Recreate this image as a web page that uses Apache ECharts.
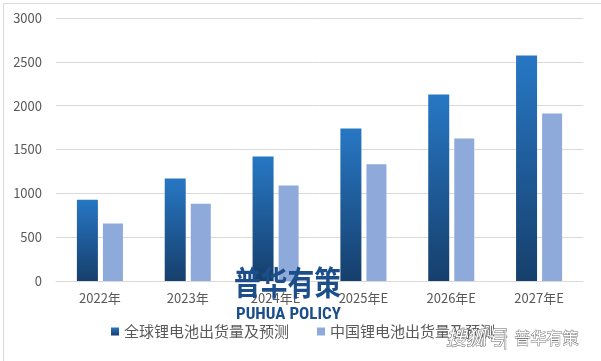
<!DOCTYPE html>
<html><head><meta charset="utf-8">
<script src="https://cdn.jsdelivr.net/npm/echarts@6/dist/echarts.min.js"></script>
<style>html,body{margin:0;padding:0;background:#fff}#c{width:601px;height:361px}</style>
</head><body><div id="c"></div>
<script>
const categories = ['2022年','2023年','2024年E','2025年E','2026年E','2027年E'];
const globalShipments = [927, 1168, 1420, 1740, 2126, 2573];
const chinaShipments = [656, 882, 1088, 1332, 1626, 1912];
const seriesNames = ['全球锂电池出货量及预测', '中国锂电池出货量及预测'];
const yTicks = {min: 0, max: 3000, interval: 500};

const font = '"Noto Sans CJK SC", "Noto Sans", sans-serif';
const chart = echarts.init(document.getElementById('c'), null, {renderer: 'canvas'});
chart.setOption({
  animation: false,
  backgroundColor: '#fff',
  grid: {left: 56, right: 18, top: 18, bottom: 80, containLabel: false},
  legend: {
    bottom: 17, left: 106,
    itemWidth: 8, itemHeight: 8, itemGap: 28,
    icon: 'rect',
    textStyle: {color: '#595959', fontSize: 15, fontFamily: font},
    data: seriesNames
  },
  xAxis: {
    type: 'category', data: categories,
    axisLine: {lineStyle: {color: '#d9d9d9'}},
    axisTick: {show: false},
    axisLabel: {color: '#595959', fontSize: 13, fontFamily: font, margin: 11}
  },
  yAxis: {
    type: 'value', min: yTicks.min, max: yTicks.max, interval: yTicks.interval,
    axisLine: {show: false}, axisTick: {show: false},
    splitLine: {lineStyle: {color: '#d9d9d9'}},
    axisLabel: {color: '#595959', fontSize: 13, fontFamily: font, margin: 14,
                formatter: v => String(v)}
  },
  series: [
    {
      name: seriesNames[0], type: 'bar', data: globalShipments,
      barWidth: 21, barGap: '24%',
      itemStyle: {color: new echarts.graphic.LinearGradient(0,0,0,1,[
        {offset: 0, color: '#2777c4'}, {offset: 1, color: '#163f6c'}
      ])}
    },
    {
      name: seriesNames[1], type: 'bar', data: chinaShipments,
      barWidth: 20,
      itemStyle: {color: '#8eaadb'}
    }
  ],
  graphic: [
    {type: 'rect', left: 1, top: 1, shape: {width: 598, height: 358},
     style: {fill: 'none', stroke: '#d9d9d9', lineWidth: 1}, z: 100},
    {type: 'text', x: 234, y: 266, scaleX: 0.81, z: 100,
     style: {text: '普华有策', fill: '#1b4e8a', font: 'bold 33px "Noto Sans CJK SC"'}},
    {type: 'text', x: 236, y: 306, z: 100,
     style: {text: 'PUHUA POLICY', fill: '#1b4e8a', font: 'bold 17px "Liberation Sans Narrow", "Roboto Condensed", sans-serif'}},
    {type: 'text', x: 446, y: 327, z: 100,
     style: {text: '搜狐号', fill: '#fff', stroke: '#666', lineWidth: 1, font: 'italic 20px "Noto Sans CJK SC"'}},
    {type: 'text', x: 503, y: 330, z: 100,
     style: {text: '|  普华有策', fill: '#fff', stroke: '#777', lineWidth: 1, font: '16px "Noto Sans CJK SC"'}}
  ]
});
</script></body></html>
